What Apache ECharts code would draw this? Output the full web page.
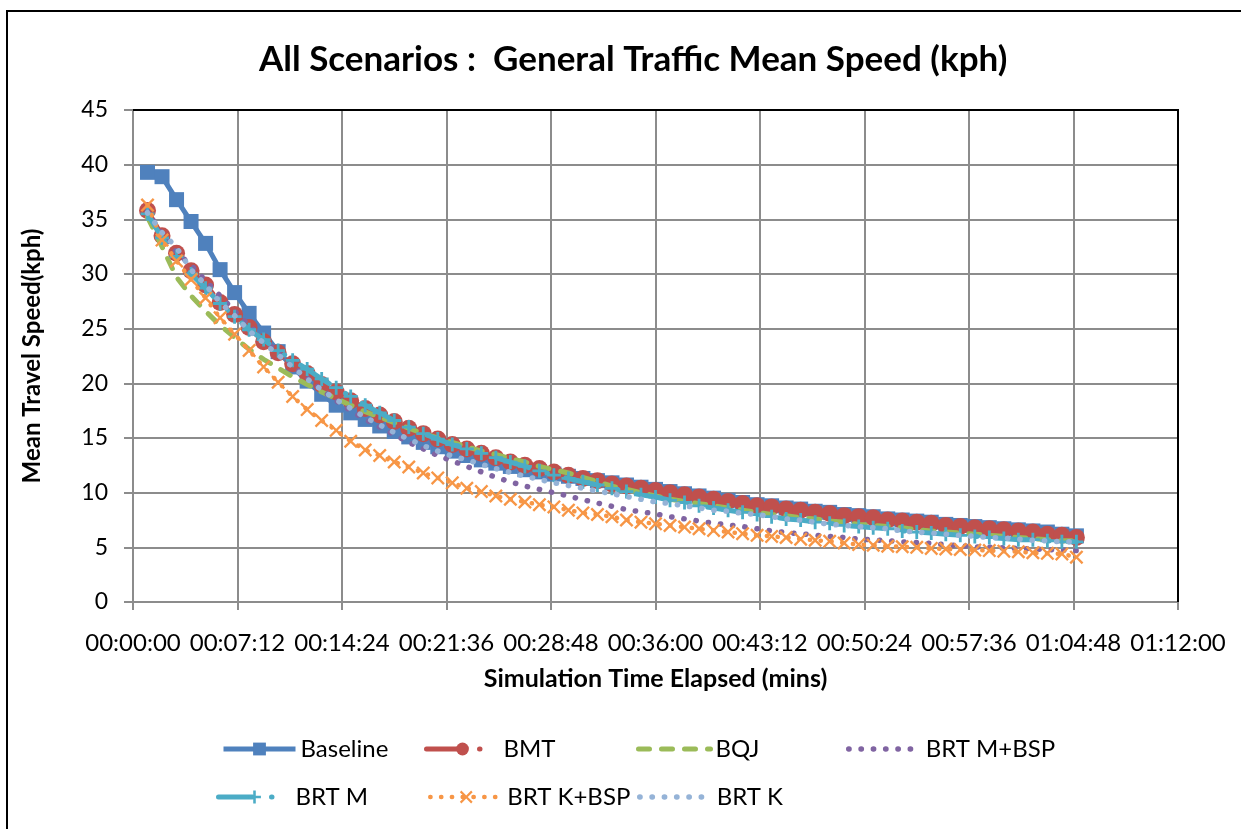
<!DOCTYPE html>
<html>
<head>
<meta charset="utf-8">
<title>All Scenarios : General Traffic Mean Speed (kph)</title>
<script src="https://cdn.jsdelivr.net/npm/echarts@6/dist/echarts.min.js"></script>
<style>
  html, body { margin: 0; padding: 0; background: #fff; }
  #chart { width: 1241px; height: 829px; }
</style>
</head>
<body>
<div id="chart"></div>
<script>
// Elapsed simulation time of each sample, in minutes
const minutes = [
  1, 2, 3, 4, 5, 6, 7, 8, 9, 10,
  11, 12, 13, 14, 15, 16, 17, 18, 19, 20,
  21, 22, 23, 24, 25, 26, 27, 28, 29, 30,
  31, 32, 33, 34, 35, 36, 37, 38, 39, 40,
  41, 42, 43, 44, 45, 46, 47, 48, 49, 50,
  51, 52, 53, 54, 55, 56, 57, 58, 59, 60,
  61, 62, 63, 64, 65
];

// Mean travel speed (kph) per scenario
const baseline = [
  39.3, 38.9, 36.8, 34.8, 32.8, 30.4, 28.3, 26.4, 24.6, 22.9,
  21.5, 20.2, 19.0, 18.0, 17.3, 16.7, 16.1, 15.6, 15.1, 14.6,
  14.2, 13.8, 13.4, 13.0, 12.7, 12.4, 12.1, 11.9, 11.7, 11.5,
  11.3, 11.1, 10.9, 10.7, 10.5, 10.3, 10.1, 9.9, 9.7, 9.5,
  9.3, 9.1, 8.9, 8.8, 8.6, 8.5, 8.3, 8.2, 8.0, 7.9,
  7.8, 7.6, 7.5, 7.4, 7.3, 7.1, 7.0, 6.9, 6.8, 6.7,
  6.6, 6.5, 6.4, 6.2, 6.05
];
const bmt = [
  35.8, 33.5, 31.9, 30.3, 29.0, 27.4, 26.3, 25.1, 23.8, 22.8,
  21.8, 20.9, 19.9, 19.2, 18.4, 17.7, 17.1, 16.5, 15.9, 15.4,
  14.9, 14.4, 14.0, 13.6, 13.2, 12.8, 12.5, 12.2, 11.9, 11.6,
  11.3, 11.1, 10.8, 10.6, 10.4, 10.2, 10.0, 9.8, 9.6, 9.4,
  9.2, 9.0, 8.8, 8.7, 8.5, 8.4, 8.2, 8.1, 7.9, 7.8,
  7.7, 7.5, 7.4, 7.3, 7.2, 7.0, 6.9, 6.8, 6.7, 6.6,
  6.5, 6.4, 6.2, 6.1, 5.9
];
const bqj = [
  35.2, 32.5, 29.7, 28.0, 26.6, 25.3, 24.2, 23.1, 22.2, 21.4,
  20.6, 19.9, 19.2, 18.6, 18.0, 17.4, 16.9, 16.4, 15.9, 15.4,
  15.0, 14.6, 14.2, 13.8, 13.5, 13.1, 12.8, 12.4, 12.1, 11.8,
  11.4, 11.0, 10.6, 10.3, 10.0, 9.7, 9.4, 9.2, 9.0, 8.8,
  8.6, 8.4, 8.2, 8.0, 7.9, 7.7, 7.6, 7.4, 7.3, 7.1,
  7.0, 6.9, 6.8, 6.6, 6.5, 6.4, 6.3, 6.2, 6.1, 6.0,
  5.9, 5.8, 5.7, 5.6, 5.6
];
const brtMBsp = [
  35.8, 33.6, 32.0, 30.8, 29.4, 28.0, 26.6, 25.3, 24.0, 22.8,
  21.6, 20.5, 19.4, 18.4, 17.5, 16.7, 16.0, 15.3, 14.6, 14.0,
  13.4, 12.9, 12.4, 11.9, 11.4, 11.0, 10.6, 10.3, 10.0, 9.7,
  9.35, 9.05, 8.75, 8.45, 8.25, 8.05, 7.8, 7.6, 7.4, 7.2,
  7.05, 6.9, 6.7, 6.5, 6.35, 6.25, 6.1, 6.0, 5.9, 5.75,
  5.7, 5.6, 5.5, 5.45, 5.35, 5.25, 5.15, 5.05, 5.0, 4.95,
  4.9, 4.85, 4.8, 4.75, 4.7
];
const brtM = [
  35.5, 33.3, 31.6, 30.0, 28.7, 27.3, 26.1, 24.9, 24.0, 23.0,
  22.1, 21.3, 20.4, 19.6, 18.8, 18.0, 17.3, 16.6, 16.0, 15.4,
  14.9, 14.4, 14.0, 13.6, 13.2, 12.8, 12.4, 12.0, 11.6, 11.3,
  11.0, 10.7, 10.4, 10.1, 9.8, 9.6, 9.3, 9.1, 8.8, 8.6,
  8.4, 8.2, 8.0, 7.8, 7.6, 7.5, 7.3, 7.2, 7.0, 6.9,
  6.8, 6.7, 6.5, 6.4, 6.3, 6.2, 6.1, 6.0, 5.9, 5.8,
  5.7, 5.7, 5.6, 5.5, 5.5
];
const brtKBsp = [
  36.3, 33.1, 31.2, 29.5, 27.8, 26.0, 24.5, 23.0, 21.5, 20.1,
  18.8, 17.6, 16.6, 15.7, 14.7, 13.9, 13.4, 12.8, 12.35, 11.8,
  11.35, 10.9, 10.4, 10.1, 9.7, 9.4, 9.15, 8.9, 8.7, 8.4,
  8.15, 8.0, 7.8, 7.5, 7.3, 7.15, 7.0, 6.85, 6.7, 6.55,
  6.4, 6.25, 6.1, 6.0, 5.9, 5.75, 5.65, 5.55, 5.4, 5.25,
  5.2, 5.1, 5.05, 5.0, 4.9, 4.85, 4.8, 4.75, 4.7, 4.65,
  4.6, 4.5, 4.45, 4.4, 4.1
];
const brtK = [
  35.6, 33.8, 32.4, 30.4, 29.0, 27.4, 26.2, 24.8, 23.7, 22.6,
  21.5, 20.4, 19.4, 18.5, 17.7, 16.9, 16.2, 15.5, 14.9, 14.3,
  13.8, 13.35, 13.0, 12.6, 12.2, 11.85, 11.5, 11.2, 10.9, 10.65,
  10.4, 10.15, 9.9, 9.65, 9.4, 9.15, 9.0, 8.8, 8.6, 8.4,
  8.3, 8.1, 8.0, 7.8, 7.6, 7.5, 7.3, 7.1, 7.0, 6.9,
  6.8, 6.7, 6.5, 6.4, 6.3, 6.2, 6.1, 6.0, 5.9, 5.85,
  5.75, 5.65, 5.6, 5.5, 5.5
];

// Time axis: minutes, labelled as hh:mm:ss every 7.2 minutes
const xMin = 0, xMax = 72, xStep = 7.2;
const yMin = 0, yMax = 45, yStep = 5;

const FONT = 'Lato, "Open Sans", sans-serif';
const GRID_GREY = '#8c8c8c';

const plusSymbol = 'path://M4,0 H6 V4 H10 V6 H6 V10 H4 V6 H0 V4 H4 Z';
const crossSymbol = 'path://M0,1.2 L1.2,0 L5,3.8 L8.8,0 L10,1.2 L6.2,5 L10,8.8 L8.8,10 L5,6.2 L1.2,10 L0,8.8 L3.8,5 Z';

function pairs(values) {
  return minutes.map((m, i) => [m, values[i]]);
}

function fmtTime(v) {
  const s = Math.round(v * 60);
  const hh = Math.floor(s / 3600);
  const mm = Math.floor((s % 3600) / 60);
  const ss = s % 60;
  const p = n => String(n).padStart(2, '0');
  return p(hh) + ':' + p(mm) + ':' + p(ss);
}

const longDashDot = [34, 19, 0.5, 19];

const seriesDefs = [
  { name: 'Baseline', data: baseline, color: '#4F81BD', width: 5, type: 'solid', cap: 'butt',
    symbol: 'rect', symbolSize: 15 },
  { name: 'BMT', data: bmt, color: '#C0504D', width: 5, type: longDashDot, cap: 'round',
    symbol: 'circle', symbolSize: 17 },
  { name: 'BQJ', data: bqj, color: '#9BBB59', width: 5, type: [11, 12], cap: 'round',
    symbol: 'none', symbolSize: 0 },
  { name: 'BRT M+BSP', data: brtMBsp, color: '#8064A2', width: 5.5, type: [0.3, 12], cap: 'round',
    symbol: 'none', symbolSize: 0 },
  { name: 'BRT M', data: brtM, color: '#4BACC6', width: 5, type: longDashDot, cap: 'round',
    symbol: plusSymbol, symbolSize: 14 },
  { name: 'BRT K+BSP', data: brtKBsp, color: '#F79646', width: 4.5, type: [0.3, 10.5], cap: 'round',
    symbol: crossSymbol, symbolSize: 14 },
  { name: 'BRT K', data: brtK, color: '#95B3D7', width: 5.5, type: [0.3, 12], cap: 'round',
    symbol: 'none', symbolSize: 0 }
];

const series = seriesDefs.map((d, i) => ({
  name: d.name,
  type: 'line',
  data: pairs(d.data),
  symbol: d.symbol,
  symbolSize: d.symbolSize,
  showSymbol: d.symbol !== 'none',
  z: 2 + i,
  itemStyle: { color: d.color, borderWidth: 0 },
  lineStyle: { color: d.color, width: d.width, type: d.type, cap: d.cap, join: 'round' },
  emphasis: { disabled: true }
}));

// Legend: two rows, one legend box per entry
const legendSlots = [
  { name: 'Baseline', left: 221, top: 737 },
  { name: 'BMT', left: 424, top: 737 },
  { name: 'BQJ', left: 636, top: 737 },
  { name: 'BRT M+BSP', left: 846, top: 737 },
  { name: 'BRT M', left: 216, top: 785 },
  { name: 'BRT K+BSP', left: 428, top: 785 },
  { name: 'BRT K', left: 637, top: 785 }
];

const legends = legendSlots.map(s => {
  const def = seriesDefs.find(d => d.name === s.name);
  const markerless = def.symbol === 'none';
  return {
    data: [s.name],
    left: s.left,
    top: s.top,
    orient: 'horizontal',
    padding: 0,
    itemWidth: 72,
    itemHeight: 16,
    selectedMode: false,
    textStyle: { fontFamily: FONT, fontSize: 24, color: '#000' },
    itemStyle: markerless ? { opacity: 0 } : {},
    lineStyle: { width: def.width, opacity: 1 }
  };
});

const chart = echarts.init(document.getElementById('chart'), null, { renderer: 'canvas' });

chart.setOption({
  animation: false,
  backgroundColor: '#fff',
  title: {
    text: 'All Scenarios :  General Traffic Mean Speed (kph)',
    left: 254,
    top: 37,
    textStyle: { fontFamily: FONT, fontSize: 35, fontWeight: 'bold', color: '#000' }
  },
  legend: legends,
  grid: { left: 133, right: 63, top: 110, bottom: 227, containLabel: false },
  xAxis: {
    type: 'value',
    min: xMin,
    max: xMax,
    interval: xStep,
    name: 'Simulation Time Elapsed (mins)',
    nameLocation: 'middle',
    nameGap: 64,
    nameTextStyle: { fontFamily: FONT, fontSize: 25, fontWeight: 'bold', color: '#000' },
    axisLine: { show: true, lineStyle: { color: GRID_GREY, width: 2 } },
    axisTick: { show: true, length: 8, inside: false, lineStyle: { color: GRID_GREY, width: 2 } },
    axisLabel: { fontFamily: FONT, fontSize: 24, color: '#000', margin: 29, formatter: fmtTime },
    splitLine: { show: true, lineStyle: { color: GRID_GREY, width: 2 } }
  },
  yAxis: {
    type: 'value',
    min: yMin,
    max: yMax,
    interval: yStep,
    name: 'Mean Travel Speed(kph)',
    nameLocation: 'middle',
    nameRotate: 90,
    nameGap: 89,
    nameTextStyle: { fontFamily: FONT, fontSize: 24, fontWeight: 'bold', color: '#000' },
    axisLine: { show: true, lineStyle: { color: GRID_GREY, width: 2 } },
    axisTick: { show: true, length: 9, inside: false, lineStyle: { color: GRID_GREY, width: 2 } },
    axisLabel: { fontFamily: FONT, fontSize: 23, color: '#000', margin: 25 },
    splitLine: { show: true, lineStyle: { color: GRID_GREY, width: 2 } }
  },
  graphic: [
    // outer chart frame
    { type: 'rect', z: 100, silent: true,
      shape: { x: 7, y: 11, width: 1250, height: 840 },
      style: { fill: 'none', stroke: '#000', lineWidth: 2 } },
    // plot area border (top and right edges)
    { type: 'polyline', z: 100, silent: true,
      shape: { points: [[133, 110], [1178, 110], [1178, 602]] },
      style: { fill: 'none', stroke: '#000', lineWidth: 2 } }
  ],
  series: series
});
</script>
</body>
</html>
